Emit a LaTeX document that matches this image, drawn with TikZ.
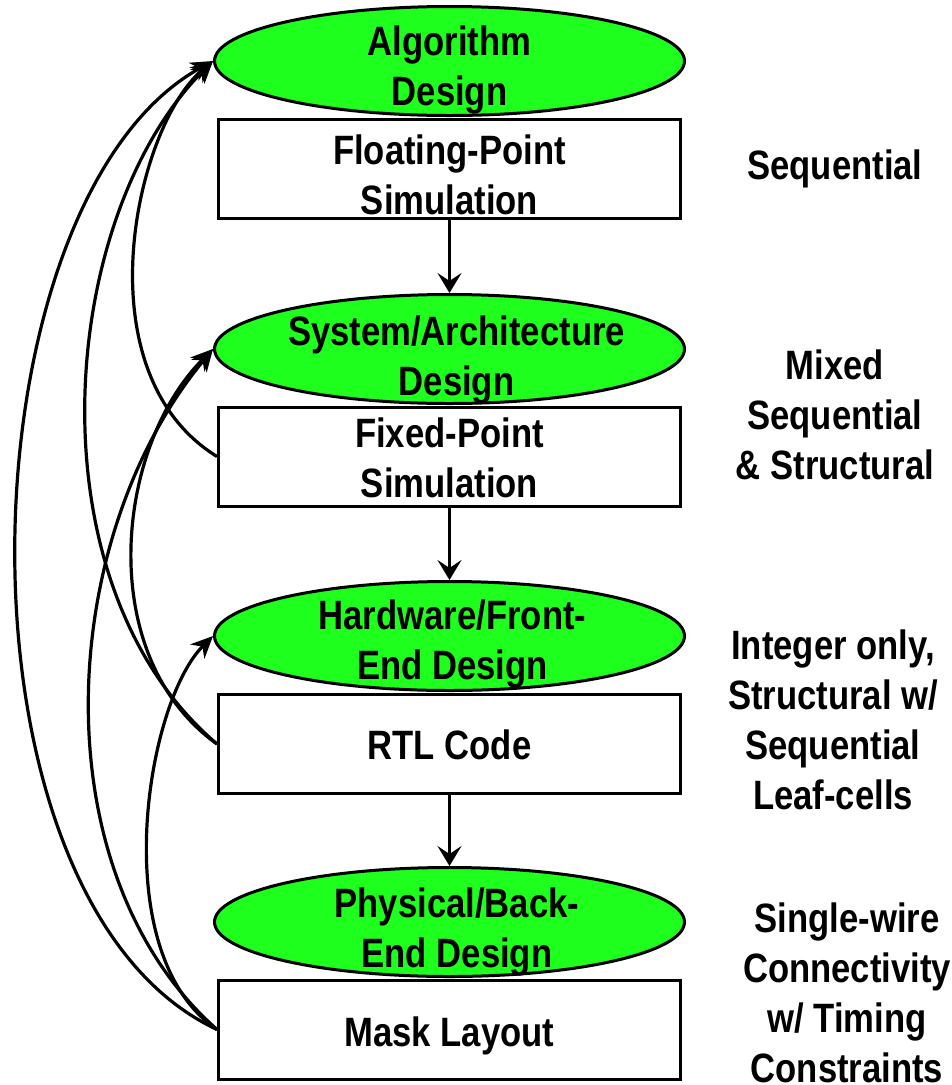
\documentclass[tikz,border=0pt]{standalone}
\usepackage{fontspec}
\setmainfont{Liberation Sans}[FakeStretch=0.845]
\usetikzlibrary{arrows.meta,shapes.geometric}
\definecolor{ellgreen}{RGB}{30,255,30}
\begin{document}
\begin{tikzpicture}[x=1pt,y=-1pt,
  ell/.style={ellipse, draw, line width=3pt, fill=ellgreen, minimum width=470pt, minimum height=109pt, inner sep=0pt},
  box/.style={rectangle, draw, line width=3pt, fill=white, minimum width=462pt, minimum height=99pt, inner sep=0pt},
  lbl/.style={anchor=north, inner sep=0pt, align=center, font=\fontsize{41}{50}\selectfont\bfseries},
  flow/.style={-{Stealth[length=20pt,width=24pt,inset=8pt]}, line width=2.6pt},
  back/.style={-{Stealth[length=22pt,width=20pt,inset=7pt]}, line width=3.2pt}
]
\useasboundingbox (0,0) rectangle (952,1085);
\fill[white] (0,0) rectangle (952,1085);

\node[ell] (e1) at (449.5,61) {};
\node[ell] (e2) at (449.5,349) {};
\node[ell] (e3) at (449.5,636) {};
\node[ell] (e4) at (449.5,922) {};

\node[box] (b1) at (449.5,169) {};
\node[box] (b2) at (449.5,456.5) {};
\node[box] (b3) at (449.5,744) {};
\node[box] (b4) at (449.5,1029.5) {};

\node[lbl] (e1t) at (449.5,25.5) {Algorithm\\Design};
\node[lbl] (e2t) at (456.5,315.5) {System/Architecture\\Design};
\node[lbl] (e3t) at (452.5,599.5) {Hardware/Front-\\End Design};
\node[lbl] (e4t) at (457,887.5) {Physical/Back-\\End Design};

\node[lbl] (b1t) at (449.5,134.5) {Floating-Point\\Simulation};
\node[lbl] (b2t) at (449.5,417.5) {Fixed-Point\\Simulation};
\node[lbl] (b3t) at (449.5,729.5) {RTL Code};
\node[lbl] (b4t) at (449.5,1016.5) {Mask Layout};

\node[lbl] (r1) at (835,149.5) {Sequential};
\node[lbl] (r2) at (835,349.5) {Mixed\\Sequential\\\& Structural};
\node[lbl] (r3) at (833,629.5) {Integer only,\\Structural w/\\Sequential\\Leaf-cells};
\node[lbl] (r4) at (847,902.5) {Single-wire\\Connectivity\\w/ Timing\\Constraints};

\draw[flow] (b1.south) -- (e2.north);
\draw[flow] (b2.south) -- (e3.north);
\draw[flow] (b3.south) -- (e4.north);

\draw[back] (b2.west) .. controls (80,372) and (135.6,126) .. (e1.west);
\draw[back] (b3.west) .. controls (27.8,583) and (58.2,216) .. (e1.west);
\draw[back] (b4.west) .. controls (-60,900) and (-40,200) .. (e1.west);
\draw[back] (b3.west) .. controls (94,656) and (115,447) .. (e2.west);
\draw[back] (b4.west) .. controls (40,873) and (55,540) .. (e2.west);
\draw[back] (b4.west) .. controls (105.6,954) and (145.6,703) .. (e3.west);
\end{tikzpicture}
\end{document}
